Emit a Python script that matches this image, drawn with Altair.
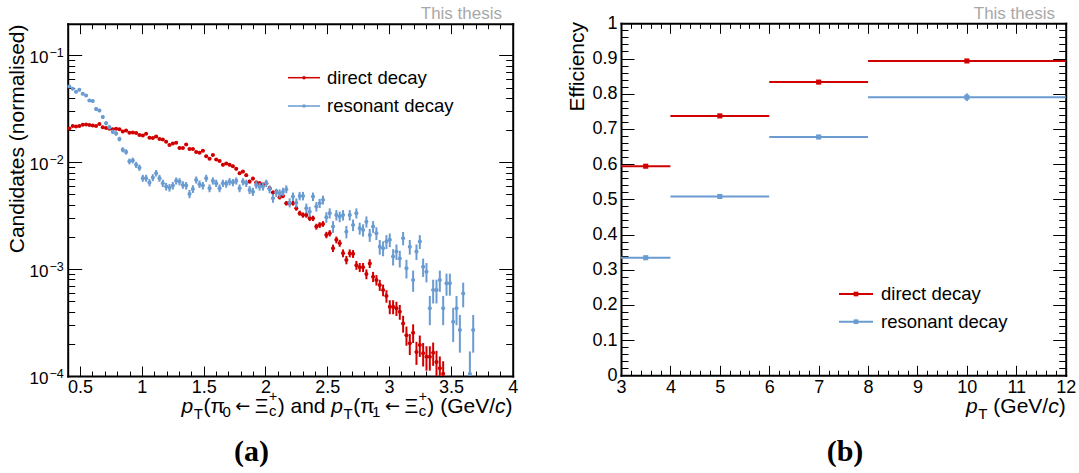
import math
import altair as alt
import pandas as pd

W, H = 1079, 473
FONT = "Liberation Sans"
RED = "#d10000"
BLUE = "#6a9bd1"
GREY = "#a8a8a8"

# ---------------- data ----------------
series_names = ["direct decay", "resonant decay"]
series_colors = [RED, BLUE]

# left panel: normalised pT histograms (bins of equal width starting at 0.4 GeV/c)
hist_start = 0.4
hist_bin_width = 0.027
direct_hist = [
    0.0207, 0.0219, 0.0216, 0.0219, 0.0224, 0.0226, 0.0223, 0.0221, 0.0219, 0.0228,
    0.0213, 0.0209, 0.0206, 0.0204, 0.0206, 0.0204, 0.0194, 0.0198, 0.0189, 0.0190,
    0.0188, 0.0180, 0.0178, 0.0185, 0.0170, 0.0169, 0.0174, 0.0165, 0.0163, 0.0156,
    0.0145, 0.0150, 0.0152, 0.0136, 0.0136, 0.0147, 0.0133, 0.0133, 0.0125, 0.0123,
    0.0128, 0.0114, 0.0108, 0.0117, 0.0106, 0.0103, 0.00946, 0.00973, 0.00946, 0.00919,
    0.00868, 0.00791, 0.00818, 0.00757, 0.00659, 0.00703, 0.00646, 0.00637, 0.00618, 0.00637,
    0.00572, 0.00520, 0.00531, 0.00471, 0.00484, 0.00414, 0.00414, 0.00414, 0.00372, 0.00334,
    0.00321, 0.00321, 0.00299, 0.00299, 0.00250, 0.00259, 0.00265, 0.00209, 0.00217, 0.00157,
    0.00188, 0.00175, 0.00141, 0.00122, 0.00141, 0.00139, 0.00109, 0.00104, 0.00104, 0.000899,
    0.00113, 0.000849, 0.000791, 0.000710, 0.000637, 0.000560, 0.000445, 0.000445, 0.000430, 0.000399,
    0.000310, 0.000241, 0.000202, 0.000254, 0.000168, 0.000195, 0.000163, 0.000151, 0.000151, 0.000165,
    0.000135, 0.000118, 0.000105,
]
resonant_hist = [
    0.0512, 0.0488, 0.0457, 0.0477, 0.0438, 0.0422, 0.0379, 0.0374, 0.0315, 0.0305,
    0.0265, 0.0232, 0.0213, 0.0193, 0.0186, 0.0165, 0.0131, 0.0125, 0.0102, 0.0104,
    0.00946, 0.00891, 0.00710, 0.00710, 0.00646, 0.00719, 0.00791, 0.00710, 0.00637, 0.00592,
    0.00579, 0.00605, 0.00670, 0.00659, 0.00614, 0.00605, 0.00506, 0.00563, 0.00684, 0.00624,
    0.00605, 0.00710, 0.00572, 0.00670, 0.00637, 0.00572, 0.00637, 0.00628, 0.00659, 0.00646,
    0.00670, 0.00572, 0.00659, 0.00637, 0.00551, 0.00531, 0.00614, 0.00592, 0.00592, 0.00637,
    0.00560, 0.00461, 0.00520, 0.00513, 0.00531, 0.00560, 0.00419, 0.00477, 0.00419, 0.00484,
    0.00484, 0.00372, 0.00345, 0.00477, 0.00385, 0.00414, 0.00445, 0.00306, 0.00334, 0.00250,
    0.00321, 0.00310, 0.00321, 0.00224, 0.00321, 0.00259, 0.00334, 0.00241, 0.00232, 0.00278,
    0.00209, 0.00250, 0.00217, 0.00162, 0.00157, 0.00181, 0.00188, 0.00131, 0.00146, 0.00126,
    0.00195, 0.00102, 0.00162, 0.000791, 0.00146, 0.00181, 0.00105, 0.000946, 0.000430, 0.000637,
    0.000637, 0.000791, 0.000430, 0.000736, 0.000736, 0.000321, 0.000430, 0.000269, 0.000593, None,
    0.000105, 0.000269,
]
# effective number of entries behind each normalised histogram (sets the Poisson error bars)
hist_entries = [100000, 25000]

# right panel: efficiencies in pT bins
eff_bin_edges = [3, 4, 6, 8, 12]
eff_direct = [0.594, 0.737, 0.833, 0.893]
eff_direct_err = [0.004, 0.004, 0.004, 0.005]
eff_resonant = [0.334, 0.508, 0.677, 0.790]
eff_resonant_err = [0.004, 0.004, 0.005, 0.011]

# axis ticks / labels
left_x_major = [0.5, 1, 1.5, 2, 2.5, 3, 3.5, 4]
left_x_minor = [round(0.4 + 0.1 * i, 2) for i in range(37)]
left_y_major = [1e-4, 1e-3, 1e-2, 1e-1]
left_y_exponents = ["\u22124", "\u22123", "\u22122", "\u22121"]
left_y_minor = [k * 10.0 ** e for e in range(-4, 0) for k in range(2, 10) if k * 10.0 ** e < 0.198]
right_x_major = [3, 4, 5, 6, 7, 8, 9, 10, 11, 12]
right_x_minor = [round(3 + 0.2 * i, 2) for i in range(46)]
right_y_major = [0, 0.1, 0.2, 0.3, 0.4, 0.5, 0.6, 0.7, 0.8, 0.9, 1]
right_y_minor = [round(0.02 * i, 2) for i in range(51)]

# ---------------- scales (each panel mapped to its own pixel region) ----------------
LX = alt.Scale(domain=[0.4, 4.0], range=[67.7, 512.7], nice=False, zero=False)
LY = alt.Scale(type="log", domain=[1e-4, 0.198], range=[376, 23.7], nice=False, clamp=True)
RX = alt.Scale(domain=[3, 12], range=[621, 1065.7], nice=False, zero=False)
RY = alt.Scale(domain=[0, 1], range=[375.3, 23.3], nice=False, zero=False)

L_BOTTOM, L_TOP, L_LEFT, L_RIGHT = 376, 23.7, 67.7, 512.7
R_BOTTOM, R_TOP, R_LEFT, R_RIGHT = 375.3, 23.3, 621, 1065.7

layers = []


def one_row(**kw):
    return pd.DataFrame({k: [v] for k, v in kw.items()})


def text_at(t, x, y, **mk):
    return alt.Chart(one_row(t=t)).mark_text(**mk).encode(
        x=alt.value(x), y=alt.value(y), text="t:N")


# ---------------- frame axes (inward ticks on all four sides) ----------------
def tick_axis(orient, offset, values, size, domain):
    return alt.Axis(orient=orient, offset=offset, values=values, tickSize=size,
                    tickWidth=1, tickColor="black", labels=False, title=None,
                    grid=False, domain=domain, domainWidth=2, domainColor="black",
                    domainCap="square")


def frame(xs, ys, xmaj, xmin, ymaj, ymin, left, right, top, bottom, xt, yt):
    out = []
    for orient, off in [("top", -bottom), ("bottom", -(H - top))]:
        for vals, size, dom in [(xmaj, xt[0], True), (xmin, xt[1], False)]:
            out.append(alt.Chart(pd.DataFrame({"v": vals})).mark_point(opacity=0).encode(
                x=alt.X("v:Q", scale=xs, axis=tick_axis(orient, off, vals, size, dom))))
    for orient, off in [("right", -(W - left)), ("left", -right)]:
        for vals, size, dom in [(ymaj, yt[0], True), (ymin, yt[1], False)]:
            out.append(alt.Chart(pd.DataFrame({"v": vals})).mark_point(opacity=0).encode(
                y=alt.Y("v:Q", scale=ys, axis=tick_axis(orient, off, vals, size, dom))))
    return out


layers += frame(LX, LY, left_x_major, left_x_minor, left_y_major, left_y_minor,
                L_LEFT, L_RIGHT, L_TOP, L_BOTTOM, (10, 5), (14, 7))
layers += frame(RX, RY, right_x_major, right_x_minor, right_y_major, right_y_minor,
                R_LEFT, R_RIGHT, R_TOP, R_BOTTOM, (10, 5), (13, 7))

label_common = dict(title=None, grid=False, ticks=False, tickSize=0, domain=False,
                    labelFont=FONT, labelFontSize=18, labelColor="black",
                    labelFlush=False, labelOverlap=False, format="~g")

# tick labels
layers.append(alt.Chart(pd.DataFrame({"v": left_x_major})).mark_point(opacity=0).encode(
    x=alt.X("v:Q", scale=LX, axis=alt.Axis(orient="bottom", offset=-(H - L_BOTTOM),
                                           values=left_x_major, labelPadding=2, **label_common))))
layers.append(alt.Chart(pd.DataFrame({"v": right_x_major})).mark_point(opacity=0).encode(
    x=alt.X("v:Q", scale=RX, axis=alt.Axis(orient="bottom", offset=-(H - R_BOTTOM),
                                           values=right_x_major, labelPadding=3, **label_common))))
layers.append(alt.Chart(pd.DataFrame({"v": right_y_major})).mark_point(opacity=0).encode(
    y=alt.Y("v:Q", scale=RY, axis=alt.Axis(orient="left", offset=-R_LEFT,
                                           values=right_y_major, labelPadding=4, **label_common))))

# log labels 10^{-n}
ylab = pd.DataFrame({"v": left_y_major, "e": left_y_exponents, "b": ["10"] * len(left_y_major)})
layers.append(alt.Chart(ylab).mark_text(align="right", baseline="middle", font=FONT,
                                        fontSize=17, dy=3, color="black").encode(
    y=alt.Y("v:Q", scale=LY, axis=None), x=alt.value(48.5), text="b:N"))
layers.append(alt.Chart(ylab).mark_text(align="left", baseline="middle", font=FONT,
                                        fontSize=12.5, dy=-2, color="black").encode(
    y=alt.Y("v:Q", scale=LY, axis=None), x=alt.value(49.5), text="e:N"))

# ---------------- left panel data ----------------
for name, color, vals, n_eff in zip(series_names, series_colors,
                                    [direct_hist, resonant_hist], hist_entries):
    rows = []
    for i, v in enumerate(vals):
        if v is None:
            continue
        c = hist_start + hist_bin_width * (i + 0.5)
        err = math.sqrt(v / n_eff)
        rows.append(dict(x=c, xlo=c - hist_bin_width / 2, xhi=c + hist_bin_width / 2,
                         v=v, lo=max(v - err, 1e-7), hi=v + err))
    df = pd.DataFrame(rows)
    base = alt.Chart(df)
    layers.append(base.mark_rule(color=color, strokeWidth=2).encode(
        x=alt.X("x:Q", scale=LX, axis=None),
        y=alt.Y("lo:Q", scale=LY, axis=None), y2="hi:Q"))
    layers.append(base.mark_rule(color=color, strokeWidth=1.5).encode(
        x=alt.X("xlo:Q", scale=LX, axis=None), x2="xhi:Q",
        y=alt.Y("v:Q", scale=LY, axis=None)))
    layers.append(base.mark_circle(color=color, size=16, opacity=1).encode(
        x=alt.X("x:Q", scale=LX, axis=None),
        y=alt.Y("v:Q", scale=LY, axis=None)))

# ---------------- right panel data ----------------
for name, color, vals, errs in zip(series_names, series_colors,
                                   [eff_direct, eff_resonant],
                                   [eff_direct_err, eff_resonant_err]):
    rows = []
    for i, (v, e) in enumerate(zip(vals, errs)):
        lo_e, hi_e = eff_bin_edges[i], eff_bin_edges[i + 1]
        rows.append(dict(x=(lo_e + hi_e) / 2, xlo=lo_e, xhi=hi_e, v=v, lo=v - e, hi=v + e))
    df = pd.DataFrame(rows)
    base = alt.Chart(df)
    layers.append(base.mark_rule(color=color, strokeWidth=2).encode(
        x=alt.X("xlo:Q", scale=RX, axis=None), x2="xhi:Q",
        y=alt.Y("v:Q", scale=RY, axis=None)))
    layers.append(base.mark_rule(color=color, strokeWidth=2).encode(
        x=alt.X("x:Q", scale=RX, axis=None),
        y=alt.Y("lo:Q", scale=RY, axis=None), y2="hi:Q"))
    layers.append(base.mark_square(color=color, size=26, opacity=1).encode(
        x=alt.X("x:Q", scale=RX, axis=None),
        y=alt.Y("v:Q", scale=RY, axis=None)))

# ---------------- legends ----------------
for i, (name, color) in enumerate(zip(series_names, series_colors)):
    yy = [77.7, 106][i]
    d = alt.Chart(one_row(n=name))
    layers.append(d.mark_rule(color=color, strokeWidth=1.5).encode(
        x=alt.value(288), x2=alt.value(320), y=alt.value(yy)))
    layers.append(d.mark_circle(color=color, size=12, opacity=1).encode(
        x=alt.value(304), y=alt.value(yy)))
    layers.append(d.mark_text(align="left", baseline="middle", font=FONT, fontSize=18.5,
                              color="black").encode(x=alt.value(327), y=alt.value(yy), text="n:N"))

    yy = [294, 321.7][i]
    layers.append(d.mark_rule(color=color, strokeWidth=2).encode(
        x=alt.value(839), x2=alt.value(873), y=alt.value(yy)))
    layers.append(d.mark_square(color=color, size=22, opacity=1).encode(
        x=alt.value(856), y=alt.value(yy)))
    layers.append(d.mark_text(align="left", baseline="middle", font=FONT, fontSize=18.5,
                              color="black").encode(x=alt.value(881), y=alt.value(yy), text="n:N"))

# ---------------- titles ----------------
CW = {"p": 0.556, "T": 0.611, "(": 0.333, ")": 0.333, " ": 0.278, "a": 0.556, "n": 0.556,
      "d": 0.556, "G": 0.778, "e": 0.556, "V": 0.667, "/": 0.278, "c": 0.5, "0": 0.556,
      "1": 0.556, "+": 0.584, "\u03c0": 0.57, "\u039e": 0.65, "\u2190": 0.838}
ARROW_FONT = "DejaVu Sans"


def rich_title(pieces, right_x, baseline_y):
    """pieces: (text, size, dy, italic) or ('GAP', px) or ('STACK', [pieces])"""
    def width(p):
        if p[0] == "GAP":
            return p[1]
        if p[0] == "STACK":
            return max(width(q) for q in p[1])
        return sum(CW.get(ch, 0.55) for ch in p[0]) * p[1]
    total = sum(width(p) for p in pieces)
    x = right_x - total
    out = []
    for p in pieces:
        if p[0] == "GAP":
            x += p[1]
            continue
        sub = p[1] if p[0] == "STACK" else [p]
        for t, size, dy, ital in sub:
            out.append(text_at(t, x, baseline_y + dy, align="left", baseline="alphabetic",
                               font=ARROW_FONT if t == "\u2190" else FONT,
                               fontSize=size, color="black",
                               fontStyle="italic" if ital else "normal"))
        x += width(p)
    return out


XI_CP = ("STACK", [("c", 15, 3, False), ("+", 14, -12, False)])
left_title = [
    ("p", 21, 0, True), ("GAP", 0.5), ("T", 15, 6, False), ("GAP", 0.5),
    ("(\u03c0", 21, 0, False), ("0", 15, 4, False),
    ("GAP", 4.5), ("\u2190", 18, -1, False), ("GAP", 4.5), ("\u039e", 21, 0, False),
    ("GAP", 0.5), XI_CP, ("GAP", 0.5),
    (") and", 21, 0, False), ("GAP", 5.8),
    ("p", 21, 0, True), ("GAP", 0.5), ("T", 15, 6, False), ("GAP", 0.5),
    ("(\u03c0", 21, 0, False), ("1", 15, 4, False),
    ("GAP", 4.5), ("\u2190", 18, -1, False), ("GAP", 4.5), ("\u039e", 21, 0, False),
    ("GAP", 0.5), XI_CP, ("GAP", 0.5),
    (")", 21, 0, False), ("GAP", 5.8), ("(GeV/", 21, 0, False), ("c", 21, 0, True),
    (")", 21, 0, False),
]
right_title = [
    ("p", 21, 0, True), ("GAP", 0.5), ("T", 15, 6, False), ("GAP", 6), ("(GeV/", 21, 0, False),
    ("c", 21, 0, True), (")", 21, 0, False),
]
layers += rich_title(left_title, 512.5, 413)
layers += rich_title(right_title, 1065.7, 413)

layers.append(text_at("Candidates (normalised)", 18, 24.5, angle=270, align="right",
                      baseline="middle", font=FONT, fontSize=21, color="black"))
layers.append(text_at("Efficiency", 578, 22, angle=270, align="right",
                      baseline="middle", font=FONT, fontSize=21, color="black"))

layers.append(text_at("This thesis", 502, 19, align="right", baseline="alphabetic",
                      font=FONT, fontSize=17, color=GREY))
layers.append(text_at("This thesis", 1055, 19, align="right", baseline="alphabetic",
                      font=FONT, fontSize=17, color=GREY))

layers.append(text_at("(a)", 251.5, 461, align="center", baseline="alphabetic",
                      font="Liberation Serif", fontWeight="bold", fontSize=30, color="black"))
layers.append(text_at("(b)", 845, 461, align="center", baseline="alphabetic",
                      font="Liberation Serif", fontWeight="bold", fontSize=30, color="black"))

chart = (
    alt.layer(*layers)
    .resolve_scale(x="independent", y="independent")
    .resolve_axis(x="independent", y="independent")
    .properties(width=W, height=H, padding=0,
                autosize=alt.AutoSizeParams(type="none"), background="white")
    .configure_view(strokeWidth=0)
)

chart.save("out.html", embed_options={"renderer": "svg", "actions": False})
